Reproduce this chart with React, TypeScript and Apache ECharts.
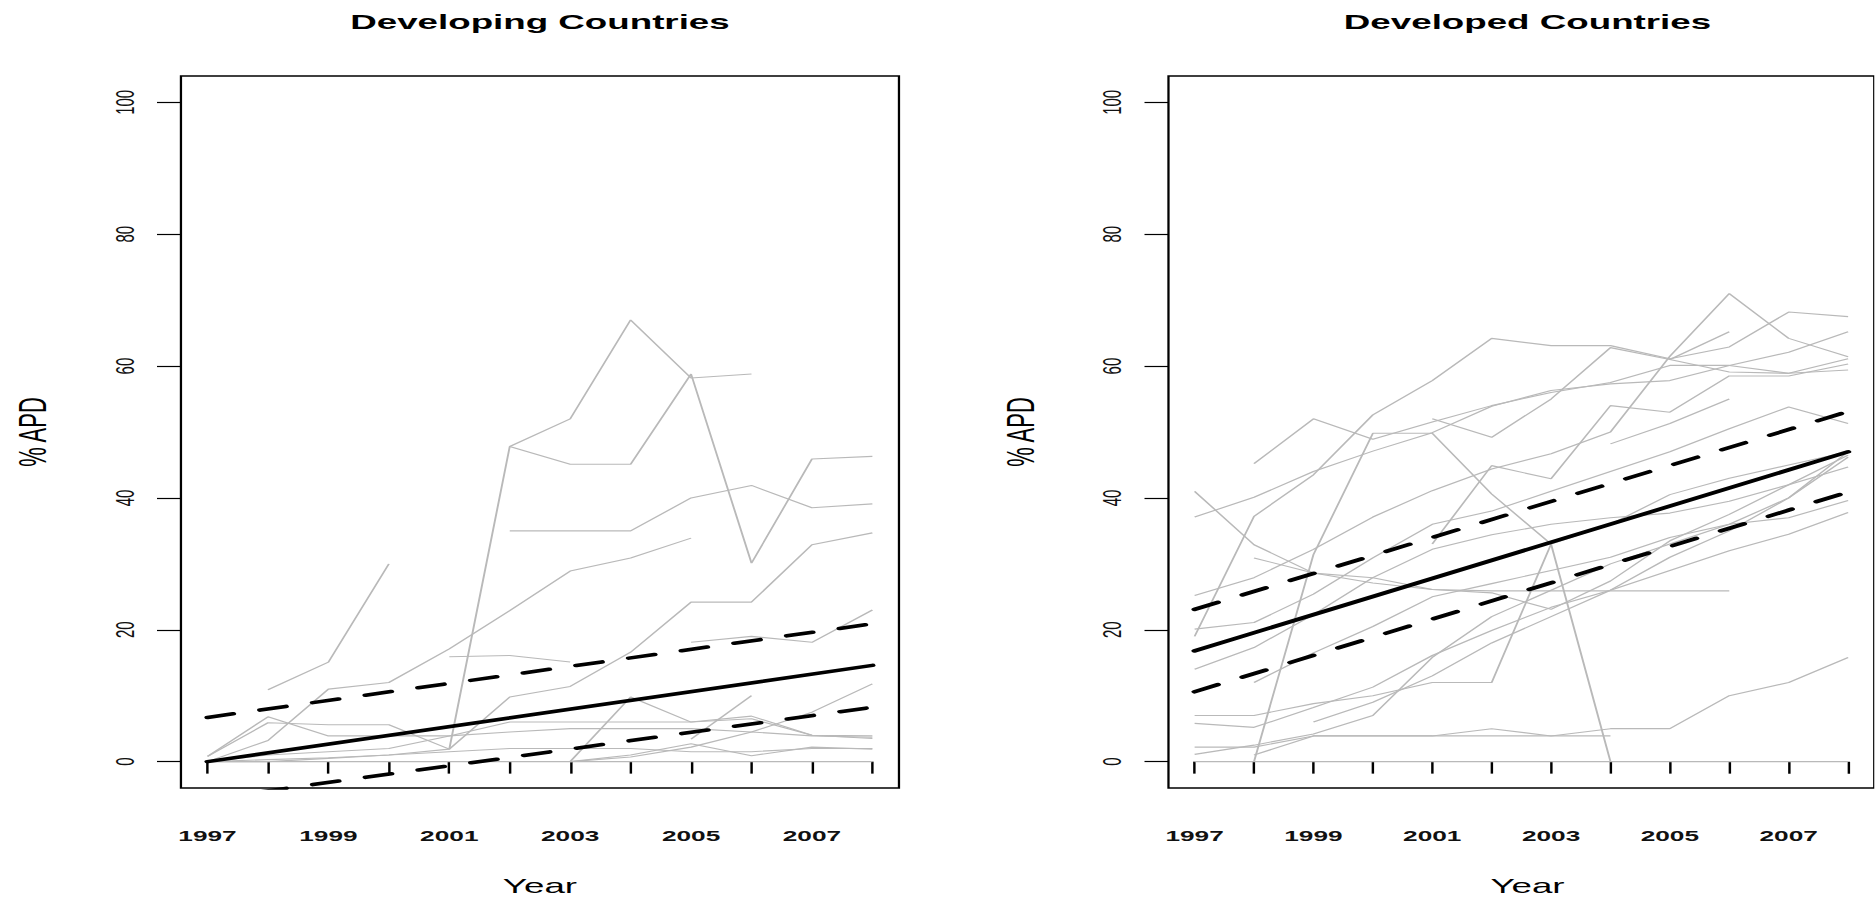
import { useEffect, useRef } from "react";
import * as echarts from "echarts";

// ---- data -------------------------------------------------------------
const YEARS = [1997, 1998, 1999, 2000, 2001, 2002, 2003, 2004, 2005, 2006, 2007, 2008];
const YEAR_LABELS = [1997, 1999, 2001, 2003, 2005, 2007];
const Y_TICKS = [0, 20, 40, 60, 80, 100];
const FIT_YEARS = [1997, 2008];

// Developing countries, % APD per year (null = not reported)
const developing01 = [0, 0, 0.5, 1.0, 1.9, 47.8, 52.0, 67.0, 58.2, 58.8, null, null];
const developing02 = [null, null, null, null, null, 47.8, 45.1, 45.1, 58.8, 30.1, 45.9, 46.3];
const developing03 = [null, 10.9, 15.1, 30.0, null, null, null, null, null, null, null, null];
const developing04 = [0, 3.2, 11.0, 12.0, 17.1, 22.9, 28.9, 30.9, 33.9, null, null, null];
const developing05 = [null, null, null, null, null, 35.0, 35.0, 35.0, 40.0, 41.9, 38.5, 39.1];
const developing06 = [0.8, 5.9, 5.6, 5.6, 1.9, 9.8, 11.4, 16.6, 24.2, 24.2, 32.9, 34.7];
const developing07 = [null, null, null, null, 15.9, 16.1, 15.1, null, null, null, null, null];
const developing08 = [null, null, null, null, null, null, null, null, 18.1, 19.0, 18.1, 23.0];
const developing09 = [null, null, null, null, null, null, 0, 0.7, 2.2, 4.5, 7.5, 11.8];
const developing10 = [null, null, null, null, null, null, 0, 9.8, 6.0, 6.5, 4.0, 3.9];
const developing11 = [null, null, null, null, null, null, null, null, 3.4, 10.0, null, null];
const developing12 = [null, null, null, null, null, null, 0, 1.0, 2.7, 0.9, 2.2, 1.9];
const developing13 = [0.8, 6.8, 3.9, 3.9, 3.9, 6.0, 6.0, 6.0, 6.0, 6.9, 4.0, 3.5];
const developing14 = [0, 1.0, 1.5, 2.0, 3.9, 4.5, 5.0, 5.0, 5.0, 4.5, 3.9, 3.7];
const developing15 = [0, 0.3, 0.6, 1.0, 1.5, 2.0, 2.0, 2.0, 1.5, 1.5, 2.0, 2.0];
const developing16 = [0, 0, 0, 0, 0, 0, 0, 0, 0, 0, 0, 0];

// Developed countries, % APD per year
const developed01 = [41.0, 32.9, 28.6, 27.9, 26.1, 25.6, 23.1, 27.4, 33.5, 37.5, 42.0, 46.5];
const developed02 = [37.1, 40.1, 44.0, 47.1, 49.9, 53.9, 56.3, 57.3, 57.8, 60.1, 62.1, 65.2];
const developed03 = [19.0, 37.2, 43.5, 52.6, 57.8, 64.2, 63.1, 63.1, 61.1, 62.9, 68.2, 67.5];
const developed04 = [25.2, 27.9, 32.2, 37.1, 41.1, 44.4, 46.7, 50.0, 61.5, 71.0, 64.2, 61.4];
const developed05 = [null, 45.2, 52.0, 48.9, 51.5, 54.0, 56.0, 57.5, 60.1, 60.1, 58.9, 61.1];
const developed06 = [null, 0, 31.4, 49.8, 49.8, 40.6, 33.0, 0, null, null, null, null];
const developed07 = [7.0, 7.0, 8.8, 10.0, 12.0, 12.0, 33.0, 36.0, 40.5, 43.0, 45.0, 47.0];
const developed08 = [20.1, 21.1, 25.4, 30.9, 36.0, 38.0, 41.0, 44.0, 47.0, 50.5, 53.8, 51.3];
const developed09 = [14.0, 17.3, 22.3, 27.9, 32.2, 34.4, 36.0, 37.0, 37.7, 39.5, 42.0, 44.7];
const developed10 = [5.8, 5.2, 8.2, 11.3, 16.1, 19.9, 23.4, 26.0, 31.0, 35.0, 40.0, 47.0];
const developed11 = [2.2, 2.2, 3.9, 3.9, 3.9, 5.0, 3.9, 5.0, 5.0, 10.0, 12.0, 15.8];
const developed12 = [1.1, 2.5, 4.2, 7.0, 15.8, 22.0, 26.0, 30.0, 33.0, 36.0, 40.0, 46.2];
const developed13 = [0, 0, 0, 0, 0, 0, 0, 0, 0, 0, 0, 0];
const developed14 = [null, 12.0, 16.5, 20.5, 25.0, 27.0, 29.0, 31.0, 34.0, 36.0, 37.0, 39.6];
const developed15 = [null, null, null, null, null, null, null, null, 61.0, 65.2, null, null];
const developed16 = [null, null, null, null, null, null, null, 48.2, 51.3, 55.0, null, null];
const developed17 = [null, 1.0, 3.9, 3.9, 3.9, 3.9, 3.9, 3.9, null, null, null, null];
const developed18 = [null, null, null, null, 52.0, 49.2, 55.0, 62.8, 61.0, 59.1, 58.9, 59.4];
const developed19 = [null, null, null, null, 33.0, 44.9, 42.9, 54.0, 53.0, 58.5, 58.5, 60.3];
const developed20 = [null, 30.9, 28.6, 27.1, 26.1, 25.9, 25.9, 25.9, 25.9, 25.9, null, null];
const developed21 = [null, null, 6.0, 9.0, 13.0, 18.0, 22.0, 26.0, 29.0, 32.0, 34.5, 37.8];

// Fitted trend and its band, values at 1997 and 2008
const developingFit = [0, 14.6];
const developingUpper = [6.7, 20.9];
const developingLower = [-5.7, 8.25];
const developedFit = [16.8, 47.0];
const developedUpper = [23.1, 53.1];
const developedLower = [10.6, 40.9];

const DEVELOPING = [
  developing01, developing02, developing03, developing04, developing05, developing06,
  developing07, developing08, developing09, developing10, developing11, developing12,
  developing13, developing14, developing15, developing16,
];
const DEVELOPED = [
  developed01, developed02, developed03, developed04, developed05, developed06, developed07,
  developed08, developed09, developed10, developed11, developed12, developed13, developed14,
  developed15, developed16, developed17, developed18, developed19, developed20, developed21,
];

// ---- layout -----------------------------------------------------------
// The figure is drawn narrow and widened with a horizontal stretch.
const STRETCH = 1.75;
const PAGE_W = 1875;
const PAGE_H = 900;
const CHART_W = PAGE_W / STRETCH;

const FONT = "'Liberation Sans', Arial, Helvetica, sans-serif";
const GRAY = "#b9b9b9";
const X_MIN = 1996.56;
const X_MAX = 2008.44;

const PANEL_LEFT = [103.4, 667.7];
const PANEL_W = 410.3;
const PANEL_TOP = 76;
const PANEL_H = 712;
const TITLES = ["Developing Countries", "Developed Countries"];

function countrySeries(rows: (number | null)[][], gi: number) {
  return rows.map((vals) => ({
    type: "line",
    xAxisIndex: gi,
    yAxisIndex: gi,
    symbol: "none",
    silent: true,
    lineStyle: { color: GRAY, width: 1.1 },
    data: YEARS.map((yr, j) => [yr, vals[j]]).filter((p) => p[1] !== null),
  }));
}

function fitSeries(vals: number[], gi: number, dashed: boolean) {
  return {
    type: "line",
    xAxisIndex: gi,
    yAxisIndex: gi,
    symbol: "none",
    silent: true,
    lineStyle: {
      color: "#000",
      width: 3.6,
      type: dashed ? [15, 16] : "solid",
      cap: "round",
    },
    data: FIT_YEARS.map((yr, j) => [yr, vals[j]]),
  };
}

function buildOption() {
  const grid = PANEL_LEFT.map((left) => ({
    left,
    top: PANEL_TOP,
    width: PANEL_W,
    height: PANEL_H,
    show: true,
    borderColor: "#000",
    borderWidth: 1.3,
    backgroundColor: "transparent",
  }));

  const xAxis = PANEL_LEFT.map((_, gi) => ({
    type: "value",
    gridIndex: gi,
    min: X_MIN,
    max: X_MAX,
    axisLine: { show: false },
    splitLine: { show: false },
    axisTick: {
      show: true,
      customValues: YEARS,
      length: 12,
      lineStyle: { color: "#000", width: 1.4 },
    },
    axisLabel: {
      customValues: YEAR_LABELS,
      margin: 48,
      fontSize: 15,
      fontWeight: "bold",
      fontFamily: FONT,
      color: "#111",
      verticalAlign: "middle",
      formatter: (v: number) => String(Math.round(v)),
    },
  }));

  const yAxis = PANEL_LEFT.map((_, gi) => ({
    type: "value",
    gridIndex: gi,
    min: -4,
    max: 104,
    axisLine: { show: false },
    splitLine: { show: false },
    axisTick: {
      show: true,
      customValues: Y_TICKS,
      length: 13.7,
      lineStyle: { color: "#000", width: 1.2 },
    },
    axisLabel: {
      customValues: Y_TICKS,
      rotate: 90,
      margin: 32,
      fontSize: 15,
      fontFamily: FONT,
      color: "#111",
      align: "center",
      verticalAlign: "middle",
      formatter: (v: number) => String(Math.round(v)),
    },
  }));

  const series = [
    ...countrySeries(DEVELOPING, 0),
    ...countrySeries(DEVELOPED, 1),
    fitSeries(developingFit, 0, false),
    fitSeries(developingUpper, 0, true),
    fitSeries(developingLower, 0, true),
    fitSeries(developedFit, 1, false),
    fitSeries(developedUpper, 1, true),
    fitSeries(developedLower, 1, true),
  ];

  const graphic: any[] = [];
  PANEL_LEFT.forEach((left, gi) => {
    const cx = left + PANEL_W / 2;
    graphic.push({
      type: "text",
      x: cx,
      y: 22,
      silent: true,
      style: {
        text: TITLES[gi],
        fontSize: 21,
        fontWeight: "bold",
        fontFamily: FONT,
        fill: "#000",
        align: "center",
        verticalAlign: "middle",
      },
    });
    graphic.push({
      type: "text",
      x: cx,
      y: 886,
      silent: true,
      style: {
        text: "Year",
        fontSize: 21,
        fontFamily: FONT,
        fill: "#000",
        align: "center",
        verticalAlign: "middle",
      },
    });
    graphic.push({
      type: "text",
      x: left - 84.4,
      y: PANEL_TOP + PANEL_H / 2,
      rotation: Math.PI / 2,
      silent: true,
      style: {
        text: "% APD",
        fontSize: 22,
        fontFamily: FONT,
        fill: "#000",
        align: "center",
        verticalAlign: "middle",
      },
    });
  });

  return {
    animation: false,
    backgroundColor: "#fff",
    grid,
    xAxis,
    yAxis,
    series,
    graphic,
  };
}

export default function App() {
  const ref = useRef<HTMLDivElement>(null);

  useEffect(() => {
    if (!ref.current) return;
    const chart = echarts.init(ref.current, null, { renderer: "svg" });
    chart.setOption(buildOption() as any);
    return () => chart.dispose();
  }, []);

  return (
    <div
      style={{
        position: "fixed",
        left: 0,
        top: 0,
        width: PAGE_W,
        height: PAGE_H,
        overflow: "hidden",
        background: "#fff",
      }}
    >
      <div
        ref={ref}
        style={{
          width: CHART_W,
          height: PAGE_H,
          transform: `scaleX(${STRETCH})`,
          transformOrigin: "0 0",
        }}
      />
    </div>
  );
}
